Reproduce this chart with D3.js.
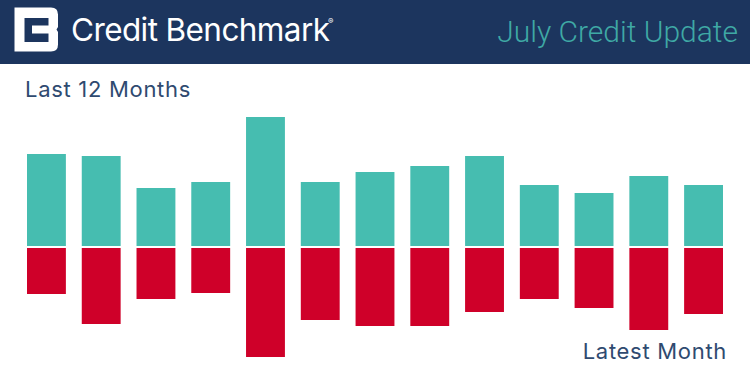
<!DOCTYPE html>
<html>
<head>
<meta charset="utf-8">
<script src="https://cdn.jsdelivr.net/npm/d3@7/dist/d3.min.js"></script>
<style>
  html, body { margin: 0; padding: 0; background: #fff; }
  svg { display: block; }
</style>
</head>
<body>
<svg id="chart" width="750" height="375"></svg>
<script>
// one bar pair per month, oldest first (13 months up to the latest)
var months = ['m01', 'm02', 'm03', 'm04', 'm05', 'm06', 'm07', 'm08', 'm09', 'm10', 'm11', 'm12', 'm13']
// no axis in the original so units are arbitrary
var upgrades = [92, 90, 58, 64, 129, 64, 74, 80, 90, 61, 53, 70, 61]
var downgrades = [46, 76, 51, 45, 109, 72, 78, 78, 64, 51, 60, 82, 66]

var width = 750, height = 375

var svg = d3.select('#chart')

svg.append('rect')
  .attr('width', width)
  .attr('height', 64)
  .attr('fill', '#1c355e')

// logo
svg.append('path')
  .attr('fill', '#fff')
  .attr('fill-rule', 'evenodd')
  .attr('d', 'M14.5 7.5H51Q58 7.5 58 14.5V27L56.5 29.5L58 32V44.5Q58 51.5 51 51.5H14.5Z'
    + 'M24.5 18V42H48.5V33.5H32V25.5H48.5V18Z')

svg.append('text')
  .attr('x', 71)
  .attr('y', 41)
  .attr('font-family', 'Inter, "Noto Sans", sans-serif')
  .attr('font-size', 31.5)
  .attr('letter-spacing', -0.6)
  .attr('fill', '#fff')
  .text('Credit Benchmark')

svg.append('text')
  .attr('x', 328)
  .attr('y', 24)
  .attr('font-family', 'Inter, sans-serif')
  .attr('font-size', 8)
  .attr('fill', '#fff')
  .text('®')

svg.append('text')
  .attr('x', 738)
  .attr('y', 42)
  .attr('text-anchor', 'end')
  .attr('font-family', 'Roboto, sans-serif')
  .attr('font-weight', 300)
  .attr('font-size', 30)
  .attr('fill', '#3fa9a5')
  .text('July Credit Update')

var x = d3.scaleBand()
  .domain(months)
  .range([27, 723])
  .paddingInner(0.29)

var yUp = d3.scaleLinear().domain([0, 129]).range([246, 117])
var yDown = d3.scaleLinear().domain([0, 109]).range([248, 357])

svg.append('g')
  .selectAll('rect')
  .data(upgrades)
  .enter().append('rect')
  .attr('x', function(d, i) { return x(months[i]) })
  .attr('y', function(d) { return yUp(d) })
  .attr('width', x.bandwidth())
  .attr('height', function(d) { return yUp(0) - yUp(d) })
  .attr('fill', '#46bdb0')

svg.append('g')
  .selectAll('rect')
  .data(downgrades)
  .enter().append('rect')
  .attr('x', function(d, i) { return x(months[i]) })
  .attr('y', yDown(0))
  .attr('width', x.bandwidth())
  .attr('height', function(d) { return yDown(d) - yDown(0) })
  .attr('fill', '#cf0029')

svg.append('text')
  .attr('x', 25)
  .attr('y', 97)
  .attr('font-family', 'Inter, "Noto Sans", sans-serif')
  .attr('font-size', 22)
  .attr('letter-spacing', 0.7)
  .attr('fill', '#2f4a70')
  .text('Last 12 Months')

svg.append('text')
  .attr('x', 727)
  .attr('y', 359)
  .attr('text-anchor', 'end')
  .attr('font-family', 'Inter, "Noto Sans", sans-serif')
  .attr('font-size', 22)
  .attr('letter-spacing', 0.7)
  .attr('fill', '#2f4a70')
  .text('Latest Month')
</script>
</body>
</html>
